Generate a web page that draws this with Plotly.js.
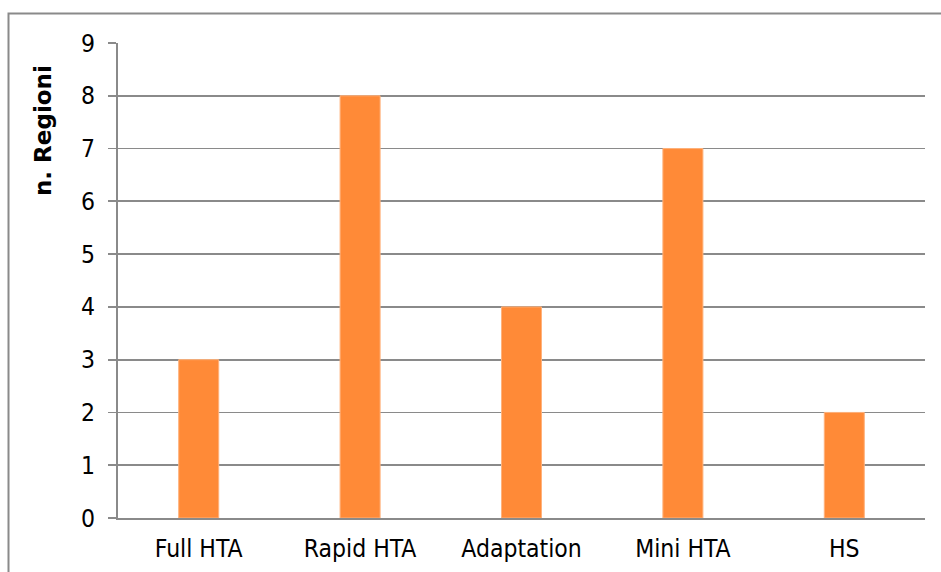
<!DOCTYPE html>
<html>
<head>
<meta charset="utf-8">
<script src="https://cdn.plot.ly/plotly-3.0.1.min.js"></script>
<style>
  html, body { margin: 0; padding: 0; background: #ffffff; }
  #chart { width: 941px; height: 572px; }
</style>
</head>
<body>
<div id="chart"></div>
<script>
// HTA activity types and number of regions for each
const categories = ['Full HTA', 'Rapid HTA', 'Adaptation', 'Mini HTA', 'HS'];
const regionCounts = [3, 8, 4, 7, 2];
const yTicks = [0, 1, 2, 3, 4, 5, 6, 7, 8, 9];
const yTitle = 'n. Regioni';

const FONT = '"DejaVu Sans Condensed", "DejaVu Sans", Tahoma, sans-serif';
const GRID = '#8a8a8a';

// plot-area geometry in pixels, used to place the frame and title in paper units
const W = 941, H = 572;
const M = { l: 118, r: 16, t: 43, b: 54 };
const pw = W - M.l - M.r, ph = H - M.t - M.b;
const px = x => (x - M.l) / pw;
const py = y => (H - M.b - y) / ph;

const trace = {
  type: 'bar',
  x: categories,
  y: regionCounts,
  marker: { color: '#FF8A37', line: { color: '#FFB27C', width: 1 } },
  hoverinfo: 'x+y'
};

const layout = {
  width: W, height: H,
  margin: M,
  paper_bgcolor: '#ffffff',
  plot_bgcolor: '#ffffff',
  bargap: 0.752,
  showlegend: false,
  font: { family: FONT, color: '#000000', size: 24 },
  xaxis: {
    type: 'category',
    showgrid: false,
    showline: true,
    linecolor: GRID,
    linewidth: 2,
    ticks: '',
    ticklabelstandoff: 8,
    tickfont: { family: FONT, size: 24.5, color: '#000000' },
    zeroline: false,
    fixedrange: true
  },
  yaxis: {
    range: [0, 9],
    tickvals: yTicks,
    ticktext: yTicks.map(String),
    showgrid: true,
    gridcolor: GRID,
    gridwidth: 1.8,
    showline: true,
    linecolor: GRID,
    linewidth: 2,
    ticks: 'outside',
    ticklen: 8,
    tickwidth: 1.8,
    tickcolor: GRID,
    ticklabelstandoff: 8,
    tickfont: { family: FONT, size: 24.5, color: '#000000' },
    zeroline: false,
    fixedrange: true
  },
  annotations: [{
    xref: 'paper', yref: 'paper',
    x: px(43), y: py(131),
    xanchor: 'center', yanchor: 'middle',
    text: '<b>' + yTitle + '</b>',
    textangle: -90,
    showarrow: false,
    font: { family: '"DejaVu Sans", Tahoma, sans-serif', size: 23, color: '#000000' }
  }],
  shapes: [{
    type: 'rect', xref: 'paper', yref: 'paper',
    x0: px(8.5), x1: px(950),
    y0: py(13.5), y1: py(590),
    line: { color: '#8a8a8a', width: 2 },
    fillcolor: 'rgba(0,0,0,0)',
    layer: 'below'
  }]
};

Plotly.newPlot('chart', [trace], layout, { displayModeBar: false, staticPlot: true });
</script>
</body>
</html>
